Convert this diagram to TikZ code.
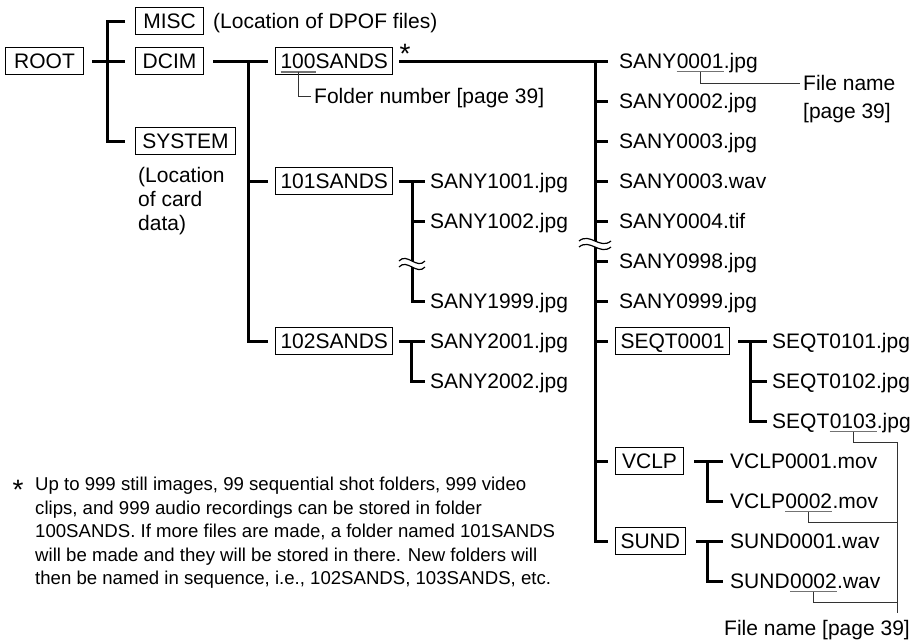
\documentclass[tikz,border=0pt]{standalone}
\usepackage{fontspec}
\setmainfont{Liberation Sans}
\usetikzlibrary{positioning}
\tikzstyle{dirbox}=[draw, line width=1.1pt, inner xsep=5pt, inner ysep=6pt, text height=15pt, text depth=0pt, minimum width=68pt, anchor=west]
\tikzstyle{entry}=[inner sep=0pt, text height=15pt, text depth=0pt, anchor=west]
\tikzstyle{note}=[inner sep=0pt, align=left, anchor=north west]
\tikzstyle{trunk}=[line width=3pt]
\tikzstyle{leader}=[black!80, line width=0.9pt]
\tikzstyle{uline}=[black!55, line width=1.4pt]

\begin{document}
\begin{tikzpicture}[x=1pt, y=-1pt, font=\fontsize{21}{24}\selectfont]
			\useasboundingbox (0,0) rectangle (916,641);

			% Root and its three folders
			\node[dirbox, minimum width=78pt] (root) at (5,61) {ROOT};
			\node[dirbox] (misc) at (135,21) {MISC};
			\node[entry] (miscnote) at (213,21) {(Location of DPOF files)};
			\node[dirbox] (dcim) at (135,61) {DCIM};
			\node[dirbox, minimum width=100pt] (system) at (135,141) {SYSTEM};
			\node[note] (sysnote) at (138,167) {(Location\\of card\\data)};

			% DCIM folders
			\node[dirbox] (s100) at (275,61) {100SANDS};
			\node[dirbox] (s101) at (275,181) {101SANDS};
			\node[dirbox] (s102) at (275,341) {102SANDS};
			\node[inner sep=0pt, anchor=base west] (n100) at ([xshift=5.5pt]s100.base west) {\phantom{100}};
			\node[inner sep=0pt, anchor=base, font=\fontsize{28}{28}\selectfont] (ast) at (405,63) {*};
			\node[entry] (fnum) at (314,96) {Folder number [page 39]};

			% Files of 101SANDS and 102SANDS
			\node[entry] (a1001) at (430,181) {SANY1001.jpg};
			\node[entry] (a1002) at (430,221) {SANY1002.jpg};
			\node[entry] (a1999) at (430,301) {SANY1999.jpg};
			\node[entry] (a2001) at (430,341) {SANY2001.jpg};
			\node[entry] (a2002) at (430,381) {SANY2002.jpg};

			% Files of 100SANDS
			\node[entry] (f01a) at (619,61) {SANY};
			\node[entry, right=0pt of f01a] (f01u) {0001};
			\node[entry, right=0pt of f01u] (f01b) {.jpg};
			\node[entry] (f02) at (619,101) {SANY0002.jpg};
			\node[entry] (f03) at (619,141) {SANY0003.jpg};
			\node[entry] (f03w) at (619,181) {SANY0003.wav};
			\node[entry] (f04) at (619,221) {SANY0004.tif};
			\node[entry] (f98) at (619,261) {SANY0998.jpg};
			\node[entry] (f99) at (619,301) {SANY0999.jpg};
			\node[entry] (fname) at (803,83) {File name};
			\node[entry] (fpage) at (803,111) {[page 39]};

			% Sub folders of 100SANDS
			\node[dirbox] (seqt) at (615,341) {SEQT0001};
			\node[dirbox] (vclp) at (615,461) {VCLP};
			\node[dirbox] (sund) at (615,541) {SUND};

			\node[entry] (q1) at (772,341) {SEQT0101.jpg};
			\node[entry] (q2) at (772,381) {SEQT0102.jpg};
			\node[entry] (q3a) at (772,421) {SEQT};
			\node[entry, right=0pt of q3a] (q3u) {0103};
			\node[entry, right=0pt of q3u] (q3b) {.jpg};

			\node[entry] (v1) at (730,461) {VCLP0001.mov};
			\node[entry] (v2a) at (730,501) {VCLP};
			\node[entry, right=0pt of v2a] (v2u) {0002};
			\node[entry, right=0pt of v2u] (v2b) {.mov};

			\node[entry] (u1) at (730,541) {SUND0001.wav};
			\node[entry] (u2a) at (730,581) {SUND};
			\node[entry, right=0pt of u2a] (u2u) {0002};
			\node[entry, right=0pt of u2u] (u2b) {.wav};

			\node[entry, anchor=east] (fname2) at (910,628) {File name [page 39]};

			% Tree lines
			\coordinate (rj) at (107,61);
			\coordinate (dj) at (248,61);
			\coordinate (sj) at (595,61);
			\coordinate (aj) at (412,181);
			\coordinate (bj) at (411,341);
			\coordinate (qj) at (750,341);
			\coordinate (vj) at (707,461);
			\coordinate (uj) at (707,541);
			\coordinate (fbr) at (897,0);

			\draw[trunk] ([xshift=8pt]root.east) -- ([xshift=-10pt]dcim.west);
			\draw[trunk] ([xshift=-10pt]misc.west) -| (rj) |- ([xshift=-10pt]system.west);

			\draw[trunk] ([xshift=9pt]dcim.east) -- ([xshift=-7pt]s100.west);
			\draw[trunk] (dj) |- ([xshift=-7pt]s102.west);
			\draw[trunk] (dj |- s101.west) -- ([xshift=-7pt]s101.west);

			\draw[trunk] ([xshift=6pt]s100.east) -- ([xshift=-11pt]f01a.west);
			\draw[trunk] (sj) |- ([xshift=-7pt]sund.west);
			\foreach \n in {f02,f03,f03w,f04,f98,f99}{
				\draw[trunk] (sj |- \n.west) -- ([xshift=-11pt]\n.west);
			}
			\foreach \n in {seqt,vclp}{
				\draw[trunk] (sj |- \n.west) -- ([xshift=-7pt]\n.west);
			}

			\draw[trunk] ([xshift=6pt]s101.east) -- ([xshift=-5pt]a1001.west);
			\draw[trunk] (aj) |- ([xshift=-5pt]a1999.west);
			\draw[trunk] (aj |- a1002.west) -- ([xshift=-5pt]a1002.west);

			\draw[trunk] ([xshift=6pt]s102.east) -- ([xshift=-5pt]a2001.west);
			\draw[trunk] (bj) |- ([xshift=-5pt]a2002.west);

			\draw[trunk] ([xshift=8pt]seqt.east) -- ([xshift=-5pt]q1.west);
			\draw[trunk] (qj) |- ([xshift=-5pt]q3a.west);
			\draw[trunk] (qj |- q2.west) -- ([xshift=-5pt]q2.west);

			\draw[trunk] ([xshift=10pt]vclp.east) -- ([xshift=-7pt]v1.west);
			\draw[trunk] (vj) |- ([xshift=-7pt]v2a.west);
			\draw[trunk] ([xshift=10pt]sund.east) -- ([xshift=-7pt]u1.west);
			\draw[trunk] (uj) |- ([xshift=-7pt]u2a.west);

			% Breaks in the lists
			\foreach \bx/\by/\bw in {412/262/13, 595/242/16}{
				\fill[white] (\bx-\bw,\by-1) .. controls (\bx-5,\by-10) and (\bx+5,\by+8) .. (\bx+\bw,\by-1)
					-- (\bx+\bw,\by+5) .. controls (\bx+5,\by+14) and (\bx-5,\by-4) .. (\bx-\bw,\by+5) -- cycle;
				\draw[line width=1.2pt] (\bx-\bw,\by-1) .. controls (\bx-5,\by-10) and (\bx+5,\by+8) .. (\bx+\bw,\by-1);
				\draw[line width=1.2pt] (\bx-\bw,\by+5) .. controls (\bx-5,\by-4) and (\bx+5,\by+14) .. (\bx+\bw,\by+5);
			}

			% Underlines and leaders
			\foreach \n in {n100,f01u,q3u,v2u,u2u}{
				\draw[uline] ([yshift=-3pt]\n.south west) -- ([yshift=-3pt]\n.south east);
			}
			\draw[leader] ([yshift=-3pt]n100.south) |- ([xshift=-3pt]fnum.west);
			\draw[leader] ([yshift=-3pt]f01u.south) |- ([xshift=-3pt]fname.west);
			\draw[leader] ([yshift=-3pt]q3u.south) |- ([yshift=-14pt]q3u.south -| fbr) -- ([yshift=7pt]fname2.north -| fbr);
			\draw[leader] ([yshift=-3pt]v2u.south) |- ([yshift=-14pt]v2u.south -| fbr);
			\draw[leader] ([yshift=-3pt]u2u.south) |- ([yshift=-14pt]u2u.south -| fbr);

			% Footnote
			\node[inner sep=0pt, anchor=base, font=\fontsize{28}{28}\selectfont] (fast) at (18,499) {*};
			\node[note, font=\fontsize{18.6}{23.5}\selectfont] (foot) at (35,477) {Up to 999 still images, 99 sequential shot folders, 999 video\\clips, and 999 audio recordings can be stored in folder\\100SANDS. If more files are made, a folder named 101SANDS\\will be made and they will be stored in there. New folders will\\then be named in sequence, i.e., 102SANDS, 103SANDS, etc.};
\end{tikzpicture}
\end{document}
